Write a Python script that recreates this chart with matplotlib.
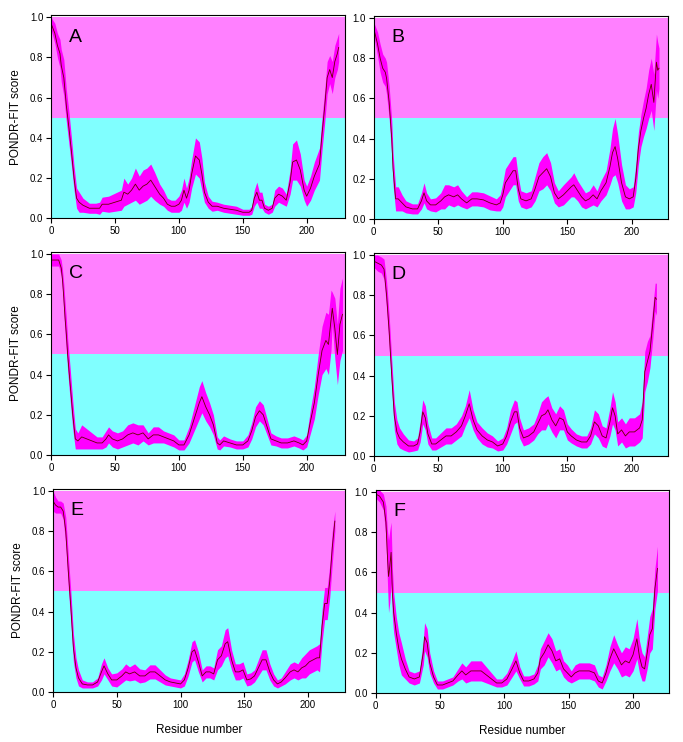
"""
PONDR-FIT disorder profiles, six panels (A-F).
Output: out.png
"""
import matplotlib
matplotlib.use("Agg")
import matplotlib.pyplot as plt

plt.rcParams["font.family"] = ["Liberation Sans", "DejaVu Sans"]

PANELS = ["A", "B", "C", "D", "E", "F"]

# ---- panel A ----
A_res = [0, 3, 5, 7, 8, 10, 12, 14, 16, 18, 20, 22, 25, 30, 35, 38, 40, 45, 50, 55,
         57, 60, 63, 66, 69, 72, 75, 78, 81, 85, 88, 91, 94, 97, 100, 102, 104, 106, 108, 110,
         113, 116, 118, 120, 123, 126, 130, 135, 140, 145, 150, 155, 157, 159, 161, 163, 165, 167, 170, 173,
         175, 178, 181, 184, 187, 189, 192, 195, 198, 200, 203, 206, 210, 212, 214, 216, 218, 220, 222, 224,
         225]
A_score = [0.97, 0.92, 0.86, 0.82, 0.76, 0.70, 0.56, 0.45, 0.33, 0.20, 0.10, 0.08, 0.065, 0.05, 0.05, 0.05, 0.07, 0.07, 0.08, 0.09,
           0.13, 0.12, 0.14, 0.17, 0.14, 0.16, 0.17, 0.19, 0.16, 0.12, 0.10, 0.07, 0.06, 0.06, 0.07, 0.09, 0.14, 0.10, 0.14, 0.22,
           0.31, 0.29, 0.22, 0.13, 0.08, 0.06, 0.06, 0.05, 0.045, 0.04, 0.03, 0.03, 0.04, 0.10, 0.13, 0.09, 0.09, 0.05, 0.04, 0.05,
           0.10, 0.12, 0.11, 0.09, 0.18, 0.28, 0.29, 0.24, 0.14, 0.11, 0.15, 0.21, 0.27, 0.42, 0.55, 0.70, 0.74, 0.70, 0.78, 0.82,
           0.85]
A_err = [0.03, 0.05, 0.06, 0.07, 0.08, 0.09, 0.08, 0.08, 0.07, 0.06, 0.05, 0.05, 0.035, 0.025, 0.025, 0.03, 0.035, 0.04, 0.045, 0.05,
         0.07, 0.05, 0.06, 0.08, 0.07, 0.08, 0.08, 0.08, 0.07, 0.05, 0.04, 0.03, 0.03, 0.03, 0.04, 0.05, 0.06, 0.05, 0.06, 0.07,
         0.09, 0.09, 0.08, 0.05, 0.03, 0.025, 0.02, 0.02, 0.02, 0.02, 0.015, 0.015, 0.02, 0.04, 0.05, 0.04, 0.04, 0.02, 0.02, 0.02,
         0.04, 0.04, 0.04, 0.03, 0.06, 0.09, 0.10, 0.08, 0.05, 0.05, 0.06, 0.07, 0.08, 0.08, 0.08, 0.08, 0.07, 0.08, 0.08, 0.08,
         0.07]

# ---- panel B ----
B_res = [0, 3, 5, 7, 9, 10, 12, 14, 15, 17, 19, 22, 25, 30, 34, 37, 39, 41, 44, 48,
         52, 55, 58, 62, 65, 68, 72, 76, 80, 85, 90, 95, 98, 100, 102, 105, 108, 110, 112, 114,
         118, 122, 125, 128, 131, 134, 137, 140, 143, 147, 150, 153, 155, 158, 161, 164, 167, 170, 173, 176,
         180, 183, 185, 187, 189, 192, 195, 198, 201, 203, 205, 207, 209, 211, 213, 215, 217, 219, 220, 221]
B_score = [0.95, 0.87, 0.80, 0.75, 0.73, 0.70, 0.58, 0.40, 0.25, 0.10, 0.10, 0.08, 0.06, 0.05, 0.05, 0.09, 0.13, 0.09, 0.07, 0.07,
           0.09, 0.11, 0.12, 0.11, 0.12, 0.10, 0.08, 0.10, 0.10, 0.095, 0.08, 0.07, 0.08, 0.12, 0.18, 0.21, 0.24, 0.24, 0.15, 0.10,
           0.09, 0.10, 0.15, 0.21, 0.23, 0.25, 0.21, 0.13, 0.10, 0.12, 0.14, 0.16, 0.17, 0.14, 0.11, 0.09, 0.10, 0.12, 0.10, 0.14,
           0.18, 0.26, 0.33, 0.36, 0.30, 0.18, 0.11, 0.10, 0.11, 0.20, 0.35, 0.44, 0.50, 0.55, 0.62, 0.67, 0.58, 0.78, 0.74, 0.75]
B_err = [0.03, 0.06, 0.07, 0.07, 0.07, 0.08, 0.08, 0.09, 0.08, 0.06, 0.06, 0.04, 0.03, 0.025, 0.025, 0.04, 0.05, 0.04, 0.03, 0.035,
         0.04, 0.06, 0.05, 0.05, 0.05, 0.04, 0.03, 0.035, 0.035, 0.035, 0.035, 0.03, 0.04, 0.06, 0.07, 0.07, 0.07, 0.07, 0.06, 0.04,
         0.04, 0.04, 0.06, 0.07, 0.08, 0.08, 0.07, 0.05, 0.04, 0.05, 0.05, 0.05, 0.06, 0.05, 0.05, 0.04, 0.04, 0.05, 0.04, 0.05,
         0.06, 0.09, 0.12, 0.14, 0.12, 0.09, 0.06, 0.05, 0.05, 0.07, 0.08, 0.08, 0.09, 0.10, 0.12, 0.13, 0.14, 0.14, 0.14, 0.10]

# ---- panel C ----
C_res = [0, 3, 6, 8, 9, 10, 11, 12, 13, 15, 17, 19, 21, 24, 28, 32, 36, 40, 43, 45,
         48, 52, 56, 60, 64, 68, 72, 76, 80, 84, 88, 92, 96, 100, 104, 108, 112, 116, 118, 121,
         124, 127, 130, 132, 135, 140, 145, 150, 154, 157, 160, 163, 166, 169, 172, 176, 180, 185, 190, 194,
         197, 200, 203, 206, 209, 212, 215, 217, 219, 220, 222, 224, 226, 228]
C_score = [0.97, 0.97, 0.97, 0.93, 0.87, 0.78, 0.68, 0.60, 0.50, 0.35, 0.20, 0.08, 0.07, 0.09, 0.08, 0.07, 0.06, 0.06, 0.08, 0.10,
           0.08, 0.07, 0.08, 0.10, 0.11, 0.10, 0.11, 0.08, 0.10, 0.10, 0.09, 0.08, 0.07, 0.05, 0.05, 0.10, 0.18, 0.26, 0.29, 0.24,
           0.20, 0.15, 0.06, 0.05, 0.07, 0.06, 0.05, 0.05, 0.07, 0.12, 0.19, 0.22, 0.20, 0.14, 0.08, 0.07, 0.06, 0.06, 0.07, 0.06,
           0.05, 0.07, 0.17, 0.26, 0.40, 0.52, 0.57, 0.55, 0.67, 0.73, 0.63, 0.50, 0.65, 0.70]
C_err = [0.03, 0.03, 0.03, 0.04, 0.05, 0.07, 0.08, 0.08, 0.08, 0.08, 0.07, 0.05, 0.04, 0.06, 0.05, 0.04, 0.03, 0.03, 0.04, 0.04,
         0.04, 0.04, 0.04, 0.05, 0.05, 0.05, 0.04, 0.03, 0.04, 0.04, 0.03, 0.03, 0.03, 0.025, 0.025, 0.04, 0.06, 0.08, 0.08, 0.07,
         0.06, 0.05, 0.03, 0.025, 0.025, 0.02, 0.02, 0.02, 0.03, 0.04, 0.05, 0.05, 0.05, 0.04, 0.03, 0.025, 0.025, 0.025, 0.025, 0.025,
         0.025, 0.03, 0.06, 0.08, 0.10, 0.12, 0.14, 0.15, 0.15, 0.08, 0.15, 0.15, 0.18, 0.18]

# ---- panel D ----
D_res = [0, 3, 6, 8, 10, 12, 14, 16, 18, 20, 23, 27, 31, 34, 36, 38, 40, 42, 45, 48,
         52, 56, 60, 64, 68, 71, 74, 77, 80, 84, 88, 92, 96, 100, 103, 106, 109, 111, 113, 116,
         120, 124, 127, 130, 133, 135, 138, 141, 144, 147, 150, 153, 157, 161, 165, 168, 171, 174, 177, 180,
         183, 185, 187, 189, 192, 195, 198, 202, 206, 208, 210, 212, 214, 216, 218, 219]
D_score = [0.97, 0.96, 0.95, 0.93, 0.80, 0.62, 0.40, 0.20, 0.12, 0.09, 0.07, 0.05, 0.05, 0.06, 0.12, 0.22, 0.19, 0.11, 0.06, 0.06,
           0.08, 0.10, 0.10, 0.12, 0.15, 0.20, 0.26, 0.18, 0.13, 0.10, 0.08, 0.07, 0.05, 0.06, 0.10, 0.17, 0.22, 0.22, 0.14, 0.09,
           0.10, 0.12, 0.16, 0.20, 0.21, 0.23, 0.18, 0.15, 0.19, 0.18, 0.12, 0.10, 0.08, 0.07, 0.07, 0.10, 0.17, 0.15, 0.10, 0.09,
           0.17, 0.24, 0.20, 0.11, 0.13, 0.10, 0.12, 0.12, 0.14, 0.18, 0.42, 0.47, 0.52, 0.65, 0.79, 0.78]
D_err = [0.03, 0.04, 0.04, 0.05, 0.07, 0.08, 0.08, 0.07, 0.06, 0.05, 0.04, 0.03, 0.025, 0.03, 0.05, 0.06, 0.06, 0.05, 0.03, 0.03,
         0.035, 0.04, 0.04, 0.04, 0.05, 0.05, 0.07, 0.05, 0.04, 0.04, 0.035, 0.03, 0.025, 0.03, 0.04, 0.06, 0.06, 0.05, 0.05, 0.04,
         0.04, 0.04, 0.05, 0.07, 0.08, 0.07, 0.06, 0.06, 0.06, 0.05, 0.04, 0.035, 0.03, 0.03, 0.03, 0.04, 0.06, 0.06, 0.05, 0.05,
         0.07, 0.08, 0.07, 0.06, 0.06, 0.06, 0.07, 0.07, 0.07, 0.09, 0.10, 0.10, 0.08, 0.08, 0.07, 0.08]

# ---- panel E ----
E_res = [0, 2, 4, 6, 8, 10, 12, 14, 16, 18, 20, 23, 27, 31, 35, 38, 40, 43, 46, 50,
         54, 57, 60, 64, 68, 72, 76, 80, 84, 88, 92, 96, 100, 103, 106, 109, 111, 114, 117, 120,
         123, 126, 129, 132, 135, 137, 140, 143, 146, 149, 152, 155, 158, 161, 164, 167, 170, 173, 176, 179,
         182, 186, 189, 192, 195, 198, 201, 204, 207, 209, 211, 213, 215, 217, 219, 221]
E_score = [0.95, 0.93, 0.92, 0.92, 0.90, 0.80, 0.60, 0.42, 0.22, 0.12, 0.07, 0.04, 0.035, 0.035, 0.05, 0.10, 0.13, 0.09, 0.06, 0.06,
           0.08, 0.10, 0.09, 0.10, 0.08, 0.08, 0.10, 0.10, 0.08, 0.06, 0.05, 0.045, 0.04, 0.06, 0.12, 0.20, 0.21, 0.15, 0.08, 0.10,
           0.10, 0.09, 0.16, 0.18, 0.24, 0.25, 0.16, 0.10, 0.10, 0.11, 0.06, 0.065, 0.08, 0.12, 0.16, 0.16, 0.10, 0.06, 0.04, 0.05,
           0.07, 0.10, 0.11, 0.10, 0.12, 0.13, 0.15, 0.16, 0.17, 0.17, 0.33, 0.44, 0.44, 0.55, 0.72, 0.85]
E_err = [0.05, 0.04, 0.03, 0.03, 0.04, 0.07, 0.08, 0.08, 0.07, 0.05, 0.04, 0.02, 0.015, 0.015, 0.02, 0.04, 0.04, 0.03, 0.03, 0.035,
         0.035, 0.04, 0.035, 0.04, 0.035, 0.03, 0.035, 0.035, 0.03, 0.025, 0.02, 0.02, 0.02, 0.03, 0.04, 0.05, 0.05, 0.05, 0.03, 0.03,
         0.03, 0.03, 0.05, 0.05, 0.07, 0.07, 0.05, 0.04, 0.04, 0.04, 0.03, 0.03, 0.03, 0.04, 0.05, 0.05, 0.04, 0.03, 0.02, 0.02,
         0.03, 0.04, 0.04, 0.04, 0.05, 0.06, 0.06, 0.06, 0.06, 0.07, 0.08, 0.08, 0.08, 0.08, 0.08, 0.05]

# ---- panel F ----
F_res = [0, 3, 6, 8, 9, 10, 11, 12, 13, 14, 16, 18, 20, 23, 26, 30, 34, 37, 38, 40,
         42, 45, 48, 52, 56, 60, 64, 67, 70, 74, 78, 82, 86, 90, 94, 98, 102, 106, 109, 112,
         115, 119, 123, 126, 128, 131, 134, 137, 140, 143, 146, 149, 152, 155, 158, 162, 166, 170, 173, 176,
         179, 182, 185, 188, 191, 194, 197, 200, 203, 205, 207, 209, 211, 213, 215, 217, 219]
F_score = [0.99, 0.98, 0.95, 0.85, 0.70, 0.58, 0.63, 0.70, 0.50, 0.40, 0.30, 0.22, 0.17, 0.12, 0.08, 0.07, 0.08, 0.20, 0.28, 0.25,
           0.15, 0.08, 0.04, 0.04, 0.05, 0.06, 0.09, 0.11, 0.09, 0.11, 0.11, 0.11, 0.09, 0.07, 0.05, 0.05, 0.07, 0.12, 0.16, 0.10,
           0.06, 0.06, 0.07, 0.10, 0.17, 0.20, 0.24, 0.21, 0.16, 0.17, 0.12, 0.10, 0.08, 0.10, 0.11, 0.11, 0.11, 0.10, 0.06, 0.05,
           0.10, 0.17, 0.22, 0.18, 0.14, 0.16, 0.15, 0.19, 0.27, 0.18, 0.13, 0.12, 0.20, 0.29, 0.32, 0.52, 0.62]
F_err = [0.02, 0.03, 0.04, 0.08, 0.12, 0.18, 0.18, 0.15, 0.12, 0.10, 0.08, 0.08, 0.08, 0.05, 0.03, 0.03, 0.03, 0.06, 0.07, 0.07,
         0.05, 0.03, 0.02, 0.02, 0.02, 0.02, 0.03, 0.04, 0.04, 0.05, 0.05, 0.05, 0.04, 0.03, 0.02, 0.02, 0.03, 0.04, 0.05, 0.03,
         0.025, 0.025, 0.025, 0.04, 0.05, 0.06, 0.06, 0.06, 0.05, 0.05, 0.04, 0.04, 0.03, 0.04, 0.04, 0.04, 0.04, 0.04, 0.03, 0.03,
         0.04, 0.06, 0.07, 0.06, 0.06, 0.07, 0.07, 0.08, 0.10, 0.08, 0.07, 0.06, 0.08, 0.09, 0.10, 0.10, 0.11]

SERIES = {
    "A": (A_res, A_score, A_err),
    "B": (B_res, B_score, B_err),
    "C": (C_res, C_score, C_err),
    "D": (D_res, D_score, D_err),
    "E": (E_res, E_score, E_err),
    "F": (F_res, F_score, F_err),
}

# axes rectangles in figure fractions (left, bottom, width, height)
BOXES = {
    "A": (0.0747, 0.7058, 0.4305, 0.2736),
    "B": (0.5471, 0.7049, 0.4310, 0.2736),
    "C": (0.0747, 0.3868, 0.4305, 0.2736),
    "D": (0.5471, 0.3854, 0.4310, 0.2736),
    "E": (0.0776, 0.0674, 0.4276, 0.2736),
    "F": (0.5500, 0.0660, 0.4296, 0.2736),
}
XMAX = {"A": 230, "B": 228, "C": 230, "D": 228, "E": 229, "F": 228}

DISORDER_BG = "#ff80ff"
ORDER_BG = "#80ffff"
BAND = "#ff00ff"
LINE = "#6a0000"


def draw_panel(fig, key):
    res, score, err = SERIES[key]
    lo = [s - e for s, e in zip(score, err)]
    hi = [s + e for s, e in zip(score, err)]

    ax = fig.add_axes(BOXES[key])
    ax.axhspan(0.5, 1.0, color=DISORDER_BG, lw=0, zorder=0)
    ax.axhspan(0.0, 0.5, color=ORDER_BG, lw=0, zorder=0)
    ax.fill_between(res, lo, hi, color=BAND, lw=0, zorder=1)
    ax.plot(res, score, color=LINE, lw=0.6, zorder=2)

    ax.set_xlim(0, XMAX[key])
    ax.set_ylim(0, 1.01)
    ax.set_xticks([0, 50, 100, 150, 200])
    ax.set_yticks([0.0, 0.2, 0.4, 0.6, 0.8, 1.0])
    ax.set_yticklabels([f"{v:.1f}" for v in ax.get_yticks()])
    ax.tick_params(direction="out", length=3.5, width=0.8, labelsize=7, pad=2)
    for sp in ax.spines.values():
        sp.set_linewidth(0.8)

    ax.text(0.06, 0.87, key, transform=ax.transAxes, fontsize=14,
            ha="left", va="baseline", color="black", zorder=3)

    if key in ("A", "C", "E"):
        ax.set_ylabel("PONDR-FIT score", fontsize=8.5, labelpad=6)
    if key in ("E", "F"):
        ax.set_xlabel("Residue number", fontsize=8.5, labelpad=10)
    return ax


def main():
    fig = plt.figure(figsize=(6.83, 7.42), dpi=100)
    for key in PANELS:
        draw_panel(fig, key)
    fig.savefig("out.png", dpi=100, facecolor="white")
    plt.close(fig)


if __name__ == "__main__":
    main()
